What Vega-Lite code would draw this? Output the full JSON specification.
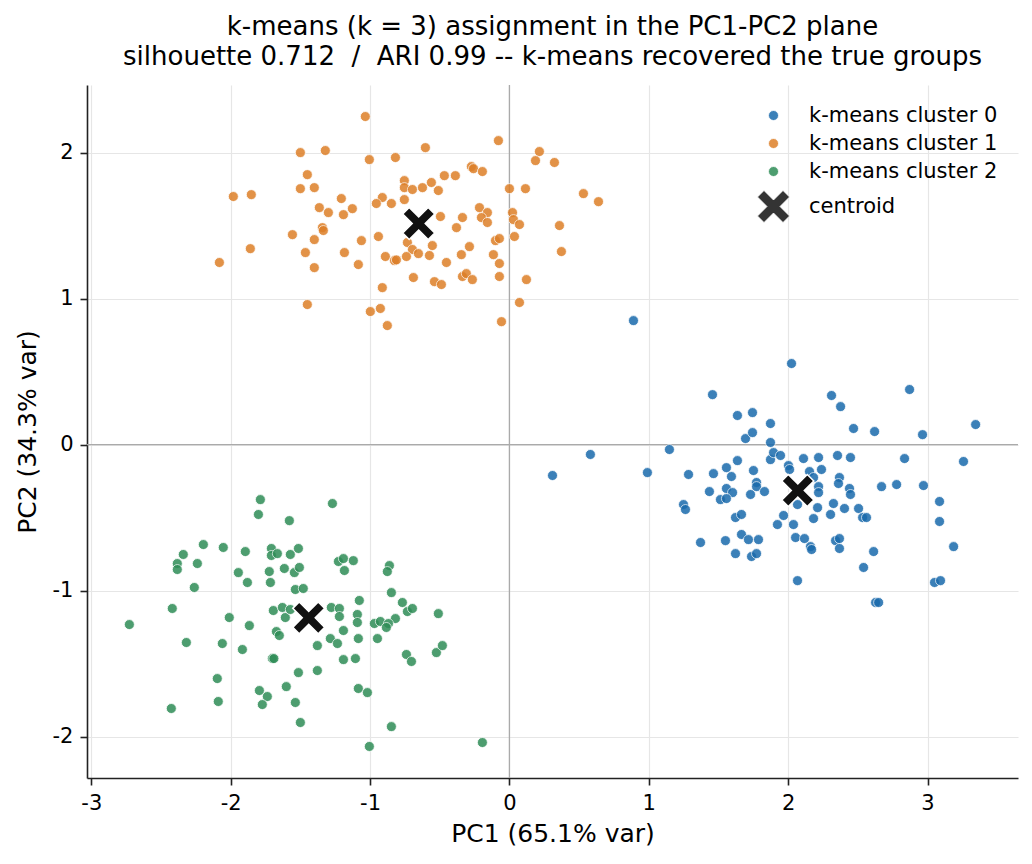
{
"$schema": "https://vega.github.io/schema/vega-lite/v6.json",
"width": 931, "height": 693,
"autosize": {"type": "none"},
"padding": {"left": 87, "top": 85, "right": 14, "bottom": 86},
"background": "white",
"title": {"text": ["k-means (k = 3) assignment in the PC1-PC2 plane", "silhouette 0.712\u00a0 /\u00a0 ARI 0.99 -- k-means recovered the true groups"], "fontSize": 26, "font": "DejaVu Sans", "fontWeight": "normal", "lineHeight": 30, "offset": 14, "color": "#000000", "anchor": "middle"},
"config": {
  "view": {"stroke": null},
  "font": "DejaVu Sans",
  "axis": {"domainColor": "#222222", "domainWidth": 1.6, "tickColor": "#222222", "tickWidth": 1.6, "tickSize": 7, "labelFontSize": 21, "labelFont": "DejaVu Sans", "labelColor": "#000000", "labelPadding": 7, "titleFontSize": 25, "titleFont": "DejaVu Sans", "titleFontWeight": "normal", "titleColor": "#000000", "gridColor": "#e6e6e6", "gridWidth": 1.2}
},
"datasets": {
"pts": [
{"x":0.890,"y":0.849,"g":"k-means cluster 0"},{"x":1.457,"y":0.342,"g":"k-means cluster 0"},{"x":1.636,"y":0.199,"g":"k-means cluster 0"},{"x":1.744,"y":0.219,"g":"k-means cluster 0"},{"x":1.694,"y":0.041,"g":"k-means cluster 0"},{"x":1.744,"y":0.082,"g":"k-means cluster 0"},{"x":1.873,"y":0.144,"g":"k-means cluster 0"},{"x":1.873,"y":0.014,"g":"k-means cluster 0"},{"x":1.148,"y":-0.034,"g":"k-means cluster 0"},{"x":0.581,"y":-0.068,"g":"k-means cluster 0"},{"x":0.309,"y":-0.212,"g":"k-means cluster 0"},{"x":0.990,"y":-0.192,"g":"k-means cluster 0"},{"x":1.285,"y":-0.205,"g":"k-means cluster 0"},{"x":1.636,"y":-0.110,"g":"k-means cluster 0"},{"x":1.557,"y":-0.158,"g":"k-means cluster 0"},{"x":1.593,"y":-0.219,"g":"k-means cluster 0"},{"x":1.464,"y":-0.199,"g":"k-means cluster 0"},{"x":1.751,"y":-0.178,"g":"k-means cluster 0"},{"x":1.773,"y":-0.260,"g":"k-means cluster 0"},{"x":1.773,"y":-0.288,"g":"k-means cluster 0"},{"x":1.830,"y":-0.322,"g":"k-means cluster 0"},{"x":1.435,"y":-0.322,"g":"k-means cluster 0"},{"x":1.557,"y":-0.301,"g":"k-means cluster 0"},{"x":1.601,"y":-0.329,"g":"k-means cluster 0"},{"x":1.514,"y":-0.377,"g":"k-means cluster 0"},{"x":1.557,"y":-0.370,"g":"k-means cluster 0"},{"x":1.730,"y":-0.342,"g":"k-means cluster 0"},{"x":1.249,"y":-0.411,"g":"k-means cluster 0"},{"x":1.263,"y":-0.445,"g":"k-means cluster 0"},{"x":1.622,"y":-0.500,"g":"k-means cluster 0"},{"x":1.665,"y":-0.479,"g":"k-means cluster 0"},{"x":1.371,"y":-0.671,"g":"k-means cluster 0"},{"x":1.550,"y":-0.658,"g":"k-means cluster 0"},{"x":1.665,"y":-0.616,"g":"k-means cluster 0"},{"x":1.715,"y":-0.651,"g":"k-means cluster 0"},{"x":1.787,"y":-0.651,"g":"k-means cluster 0"},{"x":1.622,"y":-0.747,"g":"k-means cluster 0"},{"x":1.737,"y":-0.767,"g":"k-means cluster 0"},{"x":1.773,"y":-0.747,"g":"k-means cluster 0"},{"x":1.873,"y":-0.103,"g":"k-means cluster 0"},{"x":2.024,"y":0.555,"g":"k-means cluster 0"},{"x":2.311,"y":0.336,"g":"k-means cluster 0"},{"x":2.376,"y":0.260,"g":"k-means cluster 0"},{"x":2.469,"y":0.110,"g":"k-means cluster 0"},{"x":2.620,"y":0.089,"g":"k-means cluster 0"},{"x":2.871,"y":0.377,"g":"k-means cluster 0"},{"x":3.345,"y":0.137,"g":"k-means cluster 0"},{"x":2.964,"y":0.068,"g":"k-means cluster 0"},{"x":1.895,"y":-0.055,"g":"k-means cluster 0"},{"x":1.945,"y":-0.075,"g":"k-means cluster 0"},{"x":2.002,"y":-0.144,"g":"k-means cluster 0"},{"x":2.010,"y":-0.171,"g":"k-means cluster 0"},{"x":2.110,"y":-0.096,"g":"k-means cluster 0"},{"x":2.218,"y":-0.089,"g":"k-means cluster 0"},{"x":2.354,"y":-0.075,"g":"k-means cluster 0"},{"x":2.447,"y":-0.089,"g":"k-means cluster 0"},{"x":2.153,"y":-0.185,"g":"k-means cluster 0"},{"x":2.239,"y":-0.171,"g":"k-means cluster 0"},{"x":2.182,"y":-0.226,"g":"k-means cluster 0"},{"x":2.218,"y":-0.288,"g":"k-means cluster 0"},{"x":2.218,"y":-0.329,"g":"k-means cluster 0"},{"x":2.368,"y":-0.226,"g":"k-means cluster 0"},{"x":2.361,"y":-0.267,"g":"k-means cluster 0"},{"x":2.440,"y":-0.301,"g":"k-means cluster 0"},{"x":2.447,"y":-0.342,"g":"k-means cluster 0"},{"x":2.835,"y":-0.096,"g":"k-means cluster 0"},{"x":3.258,"y":-0.116,"g":"k-means cluster 0"},{"x":2.670,"y":-0.288,"g":"k-means cluster 0"},{"x":2.778,"y":-0.274,"g":"k-means cluster 0"},{"x":2.971,"y":-0.281,"g":"k-means cluster 0"},{"x":2.067,"y":-0.411,"g":"k-means cluster 0"},{"x":2.211,"y":-0.432,"g":"k-means cluster 0"},{"x":2.325,"y":-0.404,"g":"k-means cluster 0"},{"x":2.404,"y":-0.438,"g":"k-means cluster 0"},{"x":2.304,"y":-0.479,"g":"k-means cluster 0"},{"x":2.505,"y":-0.438,"g":"k-means cluster 0"},{"x":2.534,"y":-0.500,"g":"k-means cluster 0"},{"x":2.562,"y":-0.500,"g":"k-means cluster 0"},{"x":3.086,"y":-0.390,"g":"k-means cluster 0"},{"x":3.086,"y":-0.527,"g":"k-means cluster 0"},{"x":1.967,"y":-0.486,"g":"k-means cluster 0"},{"x":1.923,"y":-0.548,"g":"k-means cluster 0"},{"x":2.038,"y":-0.548,"g":"k-means cluster 0"},{"x":2.182,"y":-0.507,"g":"k-means cluster 0"},{"x":2.053,"y":-0.637,"g":"k-means cluster 0"},{"x":2.117,"y":-0.644,"g":"k-means cluster 0"},{"x":2.160,"y":-0.699,"g":"k-means cluster 0"},{"x":2.168,"y":-0.719,"g":"k-means cluster 0"},{"x":2.340,"y":-0.658,"g":"k-means cluster 0"},{"x":2.368,"y":-0.644,"g":"k-means cluster 0"},{"x":2.368,"y":-0.712,"g":"k-means cluster 0"},{"x":2.613,"y":-0.733,"g":"k-means cluster 0"},{"x":2.541,"y":-0.842,"g":"k-means cluster 0"},{"x":3.187,"y":-0.699,"g":"k-means cluster 0"},{"x":2.067,"y":-0.932,"g":"k-means cluster 0"},{"x":3.050,"y":-0.945,"g":"k-means cluster 0"},{"x":3.093,"y":-0.932,"g":"k-means cluster 0"},{"x":2.627,"y":-1.082,"g":"k-means cluster 0"},{"x":2.649,"y":-1.082,"g":"k-means cluster 0"},
{"x":-1.034,"y":2.247,"g":"k-means cluster 1"},{"x":-1.500,"y":2.000,"g":"k-means cluster 1"},{"x":-1.321,"y":2.014,"g":"k-means cluster 1"},{"x":-1.005,"y":1.952,"g":"k-means cluster 1"},{"x":-0.818,"y":1.966,"g":"k-means cluster 1"},{"x":-1.450,"y":1.849,"g":"k-means cluster 1"},{"x":-1.500,"y":1.753,"g":"k-means cluster 1"},{"x":-1.400,"y":1.760,"g":"k-means cluster 1"},{"x":-1.981,"y":1.699,"g":"k-means cluster 1"},{"x":-1.852,"y":1.712,"g":"k-means cluster 1"},{"x":-1.206,"y":1.685,"g":"k-means cluster 1"},{"x":-0.912,"y":1.692,"g":"k-means cluster 1"},{"x":-0.955,"y":1.651,"g":"k-means cluster 1"},{"x":-0.847,"y":1.651,"g":"k-means cluster 1"},{"x":-1.364,"y":1.623,"g":"k-means cluster 1"},{"x":-1.299,"y":1.589,"g":"k-means cluster 1"},{"x":-1.191,"y":1.575,"g":"k-means cluster 1"},{"x":-1.127,"y":1.616,"g":"k-means cluster 1"},{"x":-1.342,"y":1.486,"g":"k-means cluster 1"},{"x":-1.335,"y":1.466,"g":"k-means cluster 1"},{"x":-1.557,"y":1.438,"g":"k-means cluster 1"},{"x":-1.400,"y":1.404,"g":"k-means cluster 1"},{"x":-1.062,"y":1.397,"g":"k-means cluster 1"},{"x":-0.940,"y":1.425,"g":"k-means cluster 1"},{"x":-1.859,"y":1.342,"g":"k-means cluster 1"},{"x":-1.464,"y":1.315,"g":"k-means cluster 1"},{"x":-1.184,"y":1.315,"g":"k-means cluster 1"},{"x":-1.084,"y":1.233,"g":"k-means cluster 1"},{"x":-1.400,"y":1.212,"g":"k-means cluster 1"},{"x":-0.890,"y":1.288,"g":"k-means cluster 1"},{"x":-0.825,"y":1.260,"g":"k-means cluster 1"},{"x":-0.811,"y":1.265,"g":"k-means cluster 1"},{"x":-2.081,"y":1.247,"g":"k-means cluster 1"},{"x":-0.912,"y":1.075,"g":"k-means cluster 1"},{"x":-1.450,"y":0.959,"g":"k-means cluster 1"},{"x":-0.998,"y":0.911,"g":"k-means cluster 1"},{"x":-0.926,"y":0.932,"g":"k-means cluster 1"},{"x":-0.876,"y":0.815,"g":"k-means cluster 1"},{"x":-0.079,"y":2.082,"g":"k-means cluster 1"},{"x":-0.603,"y":2.034,"g":"k-means cluster 1"},{"x":0.215,"y":2.007,"g":"k-means cluster 1"},{"x":0.187,"y":1.945,"g":"k-means cluster 1"},{"x":0.323,"y":1.932,"g":"k-means cluster 1"},{"x":-0.273,"y":1.904,"g":"k-means cluster 1"},{"x":-0.258,"y":1.890,"g":"k-means cluster 1"},{"x":-0.194,"y":1.870,"g":"k-means cluster 1"},{"x":-0.467,"y":1.842,"g":"k-means cluster 1"},{"x":-0.388,"y":1.842,"g":"k-means cluster 1"},{"x":-0.754,"y":1.808,"g":"k-means cluster 1"},{"x":-0.560,"y":1.795,"g":"k-means cluster 1"},{"x":-0.754,"y":1.760,"g":"k-means cluster 1"},{"x":-0.696,"y":1.747,"g":"k-means cluster 1"},{"x":-0.624,"y":1.760,"g":"k-means cluster 1"},{"x":-0.510,"y":1.740,"g":"k-means cluster 1"},{"x":0.000,"y":1.753,"g":"k-means cluster 1"},{"x":0.115,"y":1.753,"g":"k-means cluster 1"},{"x":0.531,"y":1.719,"g":"k-means cluster 1"},{"x":0.639,"y":1.664,"g":"k-means cluster 1"},{"x":-0.754,"y":1.678,"g":"k-means cluster 1"},{"x":-0.215,"y":1.623,"g":"k-means cluster 1"},{"x":-0.158,"y":1.589,"g":"k-means cluster 1"},{"x":-0.201,"y":1.555,"g":"k-means cluster 1"},{"x":-0.158,"y":1.521,"g":"k-means cluster 1"},{"x":0.022,"y":1.589,"g":"k-means cluster 1"},{"x":0.029,"y":1.541,"g":"k-means cluster 1"},{"x":0.072,"y":1.507,"g":"k-means cluster 1"},{"x":-0.495,"y":1.562,"g":"k-means cluster 1"},{"x":-0.337,"y":1.555,"g":"k-means cluster 1"},{"x":-0.380,"y":1.486,"g":"k-means cluster 1"},{"x":0.359,"y":1.500,"g":"k-means cluster 1"},{"x":-0.100,"y":1.397,"g":"k-means cluster 1"},{"x":-0.072,"y":1.411,"g":"k-means cluster 1"},{"x":0.036,"y":1.425,"g":"k-means cluster 1"},{"x":-0.732,"y":1.384,"g":"k-means cluster 1"},{"x":-0.696,"y":1.336,"g":"k-means cluster 1"},{"x":-0.653,"y":1.308,"g":"k-means cluster 1"},{"x":-0.553,"y":1.363,"g":"k-means cluster 1"},{"x":-0.287,"y":1.356,"g":"k-means cluster 1"},{"x":-0.739,"y":1.288,"g":"k-means cluster 1"},{"x":-0.574,"y":1.295,"g":"k-means cluster 1"},{"x":-0.345,"y":1.301,"g":"k-means cluster 1"},{"x":-0.115,"y":1.301,"g":"k-means cluster 1"},{"x":-0.072,"y":1.240,"g":"k-means cluster 1"},{"x":0.373,"y":1.322,"g":"k-means cluster 1"},{"x":-0.452,"y":1.247,"g":"k-means cluster 1"},{"x":-0.689,"y":1.144,"g":"k-means cluster 1"},{"x":-0.538,"y":1.116,"g":"k-means cluster 1"},{"x":-0.488,"y":1.096,"g":"k-means cluster 1"},{"x":-0.337,"y":1.151,"g":"k-means cluster 1"},{"x":-0.309,"y":1.171,"g":"k-means cluster 1"},{"x":-0.266,"y":1.130,"g":"k-means cluster 1"},{"x":-0.072,"y":1.151,"g":"k-means cluster 1"},{"x":0.122,"y":1.130,"g":"k-means cluster 1"},{"x":0.072,"y":0.973,"g":"k-means cluster 1"},{"x":-0.057,"y":0.842,"g":"k-means cluster 1"},
{"x":-1.787,"y":-0.377,"g":"k-means cluster 2"},{"x":-1.801,"y":-0.479,"g":"k-means cluster 2"},{"x":-1.579,"y":-0.521,"g":"k-means cluster 2"},{"x":-2.196,"y":-0.685,"g":"k-means cluster 2"},{"x":-2.053,"y":-0.705,"g":"k-means cluster 2"},{"x":-2.340,"y":-0.753,"g":"k-means cluster 2"},{"x":-2.383,"y":-0.815,"g":"k-means cluster 2"},{"x":-2.383,"y":-0.856,"g":"k-means cluster 2"},{"x":-2.239,"y":-0.815,"g":"k-means cluster 2"},{"x":-1.895,"y":-0.733,"g":"k-means cluster 2"},{"x":-1.708,"y":-0.712,"g":"k-means cluster 2"},{"x":-1.708,"y":-0.760,"g":"k-means cluster 2"},{"x":-1.665,"y":-0.747,"g":"k-means cluster 2"},{"x":-1.572,"y":-0.753,"g":"k-means cluster 2"},{"x":-1.514,"y":-0.712,"g":"k-means cluster 2"},{"x":-1.945,"y":-0.877,"g":"k-means cluster 2"},{"x":-1.880,"y":-0.945,"g":"k-means cluster 2"},{"x":-1.723,"y":-0.870,"g":"k-means cluster 2"},{"x":-1.615,"y":-0.849,"g":"k-means cluster 2"},{"x":-1.543,"y":-0.877,"g":"k-means cluster 2"},{"x":-1.507,"y":-0.842,"g":"k-means cluster 2"},{"x":-1.715,"y":-0.945,"g":"k-means cluster 2"},{"x":-2.261,"y":-0.979,"g":"k-means cluster 2"},{"x":-1.536,"y":-0.993,"g":"k-means cluster 2"},{"x":-1.479,"y":-0.986,"g":"k-means cluster 2"},{"x":-2.419,"y":-1.123,"g":"k-means cluster 2"},{"x":-2.727,"y":-1.233,"g":"k-means cluster 2"},{"x":-2.010,"y":-1.185,"g":"k-means cluster 2"},{"x":-1.866,"y":-1.240,"g":"k-means cluster 2"},{"x":-1.694,"y":-1.137,"g":"k-means cluster 2"},{"x":-1.629,"y":-1.116,"g":"k-means cluster 2"},{"x":-1.608,"y":-1.185,"g":"k-means cluster 2"},{"x":-1.572,"y":-1.130,"g":"k-means cluster 2"},{"x":-1.672,"y":-1.281,"g":"k-means cluster 2"},{"x":-1.651,"y":-1.308,"g":"k-means cluster 2"},{"x":-2.318,"y":-1.356,"g":"k-means cluster 2"},{"x":-2.060,"y":-1.363,"g":"k-means cluster 2"},{"x":-1.916,"y":-1.404,"g":"k-means cluster 2"},{"x":-1.701,"y":-1.466,"g":"k-means cluster 2"},{"x":-1.690,"y":-1.466,"g":"k-means cluster 2"},{"x":-1.378,"y":-1.377,"g":"k-means cluster 2"},{"x":-1.378,"y":-1.548,"g":"k-means cluster 2"},{"x":-1.514,"y":-1.562,"g":"k-means cluster 2"},{"x":-2.096,"y":-1.603,"g":"k-means cluster 2"},{"x":-1.601,"y":-1.658,"g":"k-means cluster 2"},{"x":-1.794,"y":-1.685,"g":"k-means cluster 2"},{"x":-1.737,"y":-1.726,"g":"k-means cluster 2"},{"x":-1.773,"y":-1.781,"g":"k-means cluster 2"},{"x":-2.089,"y":-1.760,"g":"k-means cluster 2"},{"x":-1.536,"y":-1.767,"g":"k-means cluster 2"},{"x":-2.426,"y":-1.808,"g":"k-means cluster 2"},{"x":-1.500,"y":-1.904,"g":"k-means cluster 2"},{"x":-1.270,"y":-0.404,"g":"k-means cluster 2"},{"x":-1.227,"y":-0.801,"g":"k-means cluster 2"},{"x":-1.191,"y":-0.781,"g":"k-means cluster 2"},{"x":-1.120,"y":-0.795,"g":"k-means cluster 2"},{"x":-1.184,"y":-0.863,"g":"k-means cluster 2"},{"x":-0.861,"y":-0.829,"g":"k-means cluster 2"},{"x":-0.876,"y":-0.870,"g":"k-means cluster 2"},{"x":-0.847,"y":-1.014,"g":"k-means cluster 2"},{"x":-1.077,"y":-1.068,"g":"k-means cluster 2"},{"x":-1.278,"y":-1.116,"g":"k-means cluster 2"},{"x":-1.220,"y":-1.123,"g":"k-means cluster 2"},{"x":-1.220,"y":-1.178,"g":"k-means cluster 2"},{"x":-1.091,"y":-1.164,"g":"k-means cluster 2"},{"x":-1.091,"y":-1.219,"g":"k-means cluster 2"},{"x":-0.768,"y":-1.082,"g":"k-means cluster 2"},{"x":-0.732,"y":-1.144,"g":"k-means cluster 2"},{"x":-0.696,"y":-1.123,"g":"k-means cluster 2"},{"x":-0.818,"y":-1.192,"g":"k-means cluster 2"},{"x":-0.969,"y":-1.226,"g":"k-means cluster 2"},{"x":-0.926,"y":-1.212,"g":"k-means cluster 2"},{"x":-0.868,"y":-1.226,"g":"k-means cluster 2"},{"x":-0.883,"y":-1.253,"g":"k-means cluster 2"},{"x":-0.510,"y":-1.158,"g":"k-means cluster 2"},{"x":-1.191,"y":-1.274,"g":"k-means cluster 2"},{"x":-1.285,"y":-1.329,"g":"k-means cluster 2"},{"x":-1.234,"y":-1.363,"g":"k-means cluster 2"},{"x":-1.084,"y":-1.329,"g":"k-means cluster 2"},{"x":-0.947,"y":-1.329,"g":"k-means cluster 2"},{"x":-0.739,"y":-1.438,"g":"k-means cluster 2"},{"x":-0.703,"y":-1.486,"g":"k-means cluster 2"},{"x":-0.524,"y":-1.425,"g":"k-means cluster 2"},{"x":-0.481,"y":-1.377,"g":"k-means cluster 2"},{"x":-1.191,"y":-1.473,"g":"k-means cluster 2"},{"x":-1.105,"y":-1.466,"g":"k-means cluster 2"},{"x":-1.084,"y":-1.671,"g":"k-means cluster 2"},{"x":-1.019,"y":-1.699,"g":"k-means cluster 2"},{"x":-0.847,"y":-1.932,"g":"k-means cluster 2"},{"x":-1.005,"y":-2.068,"g":"k-means cluster 2"},{"x":-0.194,"y":-2.041,"g":"k-means cluster 2"}
],
"cent": [
{"x":2.069,"y":-0.315,"g":"centroid"},{"x":-0.651,"y":1.514,"g":"centroid"},{"x":-1.440,"y":-1.187,"g":"centroid"}
]
},
"layer": [
  {"data": {"values": [{"v": 0}]}, "mark": {"type": "rule", "color": "#aaaaaa", "strokeWidth": 1.3},
   "encoding": {"x": {"field": "v", "type": "quantitative", "title": "PC1 (65.1% var)"}}},
  {"data": {"values": [{"v": 0}]}, "mark": {"type": "rule", "color": "#aaaaaa", "strokeWidth": 1.3},
   "encoding": {"y": {"field": "v", "type": "quantitative", "title": "PC2 (34.3% var)"}}},
  {"data": {"name": "pts"}, "mark": {"type": "point", "filled": true, "opacity": 0.85, "stroke": "white", "strokeWidth": 0.8, "size": 100},
   "encoding": {
     "x": {"field": "x", "type": "quantitative", "title": "PC1 (65.1% var)", "scale": {"domain": [-3.031, 3.649], "nice": false, "zero": false}, "axis": {"values": [-3, -2, -1, 0, 1, 2, 3], "format": "d", "labelExpr": "replace(datum.label, '\u2212', '-')", "titlePadding": 8}},
     "y": {"field": "y", "type": "quantitative", "title": "PC2 (34.3% var)", "scale": {"domain": [-2.284, 2.463], "nice": false, "zero": false}, "axis": {"values": [-2, -1, 0, 1, 2], "format": "d", "labelExpr": "replace(datum.label, '\u2212', '-')", "titlePadding": 12}},
     "color": {"field": "g", "type": "nominal", "scale": {"domain": ["k-means cluster 0", "k-means cluster 1", "k-means cluster 2", "centroid"], "range": ["#1a6aac", "#dd7f28", "#2f8d57", "#111111"]},
       "legend": {"title": null, "orient": "top-right", "offset": 20, "padding": 0, "labelFontSize": 21, "labelFont": "DejaVu Sans", "labelColor": "#000000", "labelOffset": 25, "labelLimit": 500, "rowPadding": 6, "symbolSize": 100, "symbolStrokeColor": "white", "symbolStrokeWidth": 0.8,
         "encode": {"symbols": {"update": {"opacity": {"signal": "datum.value === 'centroid' ? 1 : 0.85"}}}}}},
     "shape": {"field": "g", "type": "nominal", "scale": {"domain": ["k-means cluster 0", "k-means cluster 1", "k-means cluster 2", "centroid"], "range": ["circle", "circle", "circle", "M -1.9 -3.2 L 0 -1.3 L 1.9 -3.2 L 3.2 -1.9 L 1.3 0 L 3.2 1.9 L 1.9 3.2 L 0 1.3 L -1.9 3.2 L -3.2 1.9 L -1.3 0 L -3.2 -1.9 Z"]}}
   }},
  {"data": {"name": "cent"}, "mark": {"type": "point", "filled": true, "opacity": 1, "stroke": "white", "strokeWidth": 1.5, "size": 100},
   "encoding": {
     "x": {"field": "x", "type": "quantitative", "title": "PC1 (65.1% var)"},
     "y": {"field": "y", "type": "quantitative", "title": "PC2 (34.3% var)"},
     "color": {"field": "g", "type": "nominal"},
     "shape": {"field": "g", "type": "nominal"}
   }}
]
}
